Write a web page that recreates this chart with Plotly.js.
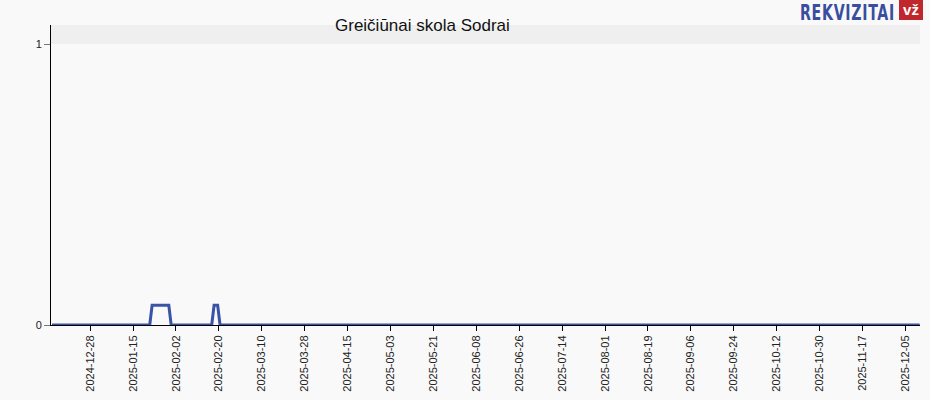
<!DOCTYPE html>
<html>
<head>
<meta charset="utf-8">
<script src="https://cdn.plot.ly/plotly-3.0.1.min.js"></script>
<style>
html,body{margin:0;padding:0;background:#f9f9f9;}
#wrap{position:relative;width:930px;height:400px;overflow:hidden;}
#chart{width:930px;height:400px;}
#logo{position:absolute;left:800px;top:0px;height:26px;white-space:nowrap;
  font-family:'DejaVu Sans Condensed','DejaVu Sans',sans-serif;font-weight:bold;
  font-size:22px;line-height:26px;color:#3a4ea0;transform-origin:0 0;letter-spacing:1px;}
#vz{position:absolute;left:899px;top:0px;width:24px;height:20px;background:#c0272d;
  color:#fff;font-family:'Liberation Sans',Arial,sans-serif;font-weight:bold;font-size:15px;
  line-height:20px;text-align:center;}
</style>
</head>
<body>
<div id="wrap">
<div id="chart"></div>
<div id="logo">REKVIZITAI</div>
<div id="vz">vž</div>
</div>
<script>
// Data
const dates = [
  '2024-12-12', '2025-01-22', '2025-01-23', '2025-01-30', '2025-01-31',
  '2025-02-17', '2025-02-18', '2025-02-19 12:00', '2025-02-20 12:00', '2025-12-11'
];
const values = [0, 0, 0.07, 0.07, 0, 0, 0.07, 0.07, 0, 0];
const chartTitle = 'Greičiūnai skola Sodrai';
const xRange = ['2024-12-11 14:00', '2025-12-11 03:00'];
const yRange = [0, 1.0676];
const yTicks = [0, 1];
const yTickText = ['0', '1'];

const trace = {
  x: dates,
  y: values,
  type: 'scatter',
  mode: 'lines',
  line: {color: '#3b53a6', width: 3},
  hoverinfo: 'x+y'
};

const layout = {
  width: 930,
  height: 400,
  margin: {l: 51, r: 10, t: 25, b: 75},
  paper_bgcolor: '#f9f9f9',
  plot_bgcolor: '#f9f9f9',
  showlegend: false,
  font: {family: 'Liberation Sans, Arial, sans-serif', color: '#222', size: 11},
  title: {
    text: chartTitle,
    font: {family: 'Liberation Sans, Arial, sans-serif', size: 17, color: '#111'},
    x: 335 / 930, xanchor: 'left', xref: 'container',
    y: 1 - 25 / 400, yanchor: 'middle', yref: 'container'
  },
  xaxis: {
    type: 'date',
    range: xRange,
    tick0: '2024-12-28',
    dtick: 18 * 86400000,
    tickformat: '%Y-%m-%d',
    tickangle: -90,
    ticks: 'outside',
    ticklen: 5,
    tickcolor: '#000',
    showline: true,
    linecolor: '#000',
    linewidth: 1,
    showgrid: false,
    zeroline: false,
    tickfont: {size: 11, color: '#222'}
  },
  yaxis: {
    range: yRange,
    tickvals: yTicks,
    ticktext: yTickText,
    ticks: 'outside',
    ticklen: 6,
    tickcolor: '#777',
    showline: true,
    linecolor: '#000',
    linewidth: 1,
    showgrid: false,
    zeroline: false,
    tickfont: {size: 11, color: '#222'}
  },
  shapes: [{
    type: 'rect', xref: 'paper', yref: 'y',
    x0: 0, x1: 1, y0: 1, y1: yRange[1],
    fillcolor: '#efefef', line: {width: 0}, layer: 'below'
  }]
};

Plotly.newPlot('chart', [trace], layout, {displayModeBar: false, staticPlot: true});

// fit the logo text into its width (95px)
const logo = document.getElementById('logo');
const w = logo.getBoundingClientRect().width;
logo.style.transform = 'scaleX(' + (95 / w) + ')';
</script>
</body>
</html>
